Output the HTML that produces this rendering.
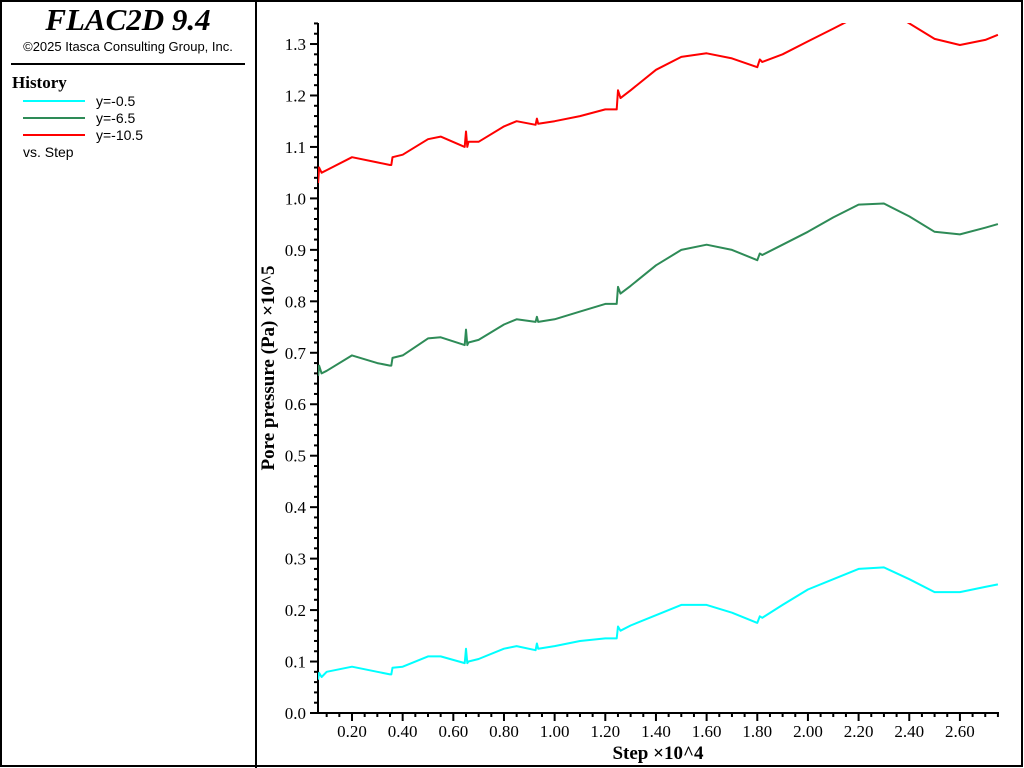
<!DOCTYPE html>
<html><head><meta charset="utf-8"><style>
html,body{margin:0;padding:0;background:#fff;width:1024px;height:768px;overflow:hidden}
svg{display:block}
</style></head><body>
<svg id="c" width="1024" height="768" xmlns="http://www.w3.org/2000/svg">
<rect x="1" y="1" width="1021" height="765" fill="#fff" stroke="#000" stroke-width="2"/>
<line x1="256" y1="0" x2="256" y2="768" stroke="#000" stroke-width="2"/>
<g>
<text x="128" y="30" text-anchor="middle" font-family="Liberation Serif" font-style="italic" font-weight="bold" font-size="31">FLAC2D 9.4</text>
<text x="128" y="51" text-anchor="middle" font-family="Liberation Sans" font-size="13">©2025 Itasca Consulting Group, Inc.</text>
<line x1="11" y1="64" x2="245" y2="64" stroke="#000" stroke-width="2"/>
<text x="12" y="88" font-family="Liberation Serif" font-weight="bold" font-size="17">History</text>
<g><line x1="23" y1="101" x2="85" y2="101" stroke="#00ffff" stroke-width="2"/><text x="96" y="106" font-family="Liberation Sans" font-size="14">y=-0.5</text></g>
<g><line x1="23" y1="118" x2="85" y2="118" stroke="#2e8b57" stroke-width="2"/><text x="96" y="123" font-family="Liberation Sans" font-size="14">y=-6.5</text></g>
<g><line x1="23" y1="135" x2="85" y2="135" stroke="#ff0000" stroke-width="2"/><text x="96" y="140" font-family="Liberation Sans" font-size="14">y=-10.5</text></g>
<text x="23" y="157" font-family="Liberation Sans" font-size="14">vs. Step</text>
</g>
<defs><clipPath id="clip"><rect x="318" y="23" width="682" height="691"/></clipPath></defs>
<g id="axes"></g>
<g id="series" clip-path="url(#clip)"></g>
<text x="658" y="759" text-anchor="middle" font-family="Liberation Serif" font-weight="bold" font-size="19">Step ×10^4</text>
<text transform="translate(274,368) rotate(-90)" text-anchor="middle" font-family="Liberation Serif" font-weight="bold" font-size="19">Pore pressure (Pa) ×10^5</text>
</svg>
<script>
const xs =   [0.066,0.07,0.08,0.1,0.2,0.3,0.35,0.355,0.36,0.4,0.5,0.55,0.645,0.65,0.655,0.66,0.7,0.8,0.85,0.925,0.93,0.935,1.0,1.1,1.2,1.245,1.25,1.26,1.3,1.4,1.5,1.6,1.7,1.8,1.81,1.82,1.9,2.0,2.1,2.2,2.3,2.4,2.5,2.6,2.7,2.75];
const redVals = [1.03,1.06,1.05,1.055,1.08,1.07,1.065,1.065,1.08,1.085,1.115,1.12,1.10,1.13,1.10,1.11,1.11,1.14,1.15,1.143,1.155,1.145,1.15,1.16,1.173,1.173,1.21,1.195,1.21,1.25,1.275,1.282,1.272,1.255,1.27,1.265,1.28,1.305,1.33,1.355,1.37,1.34,1.31,1.298,1.308,1.318];
const greenVals=[0.655,0.675,0.66,0.665,0.695,0.68,0.675,0.675,0.69,0.695,0.728,0.73,0.715,0.745,0.715,0.72,0.725,0.755,0.765,0.76,0.77,0.76,0.765,0.78,0.795,0.795,0.828,0.815,0.83,0.87,0.9,0.91,0.9,0.88,0.893,0.89,0.91,0.935,0.963,0.988,0.99,0.965,0.935,0.93,0.943,0.95];
const cyanVals=[0.065,0.078,0.07,0.08,0.09,0.08,0.075,0.075,0.088,0.09,0.11,0.11,0.097,0.125,0.097,0.1,0.105,0.125,0.13,0.122,0.135,0.125,0.13,0.14,0.145,0.145,0.168,0.16,0.17,0.19,0.21,0.21,0.195,0.175,0.188,0.185,0.21,0.24,0.26,0.28,0.283,0.26,0.235,0.235,0.245,0.25];
const xTicks=[0.2,0.4,0.6,0.8,1.0,1.2,1.4,1.6,1.8,2.0,2.2,2.4,2.6];
const yTicks=[0,0.1,0.2,0.3,0.4,0.5,0.6,0.7,0.8,0.9,1.0,1.1,1.2,1.3];
const X=v=>352+(v-0.2)*253.3, Y=v=>713-v*514.6;
const NS='http://www.w3.org/2000/svg';
const ax=document.getElementById('axes'), se=document.getElementById('series');
function mk(tag,at,p){const e=document.createElementNS(NS,tag);for(const k in at)e.setAttribute(k,at[k]);p.appendChild(e);return e;}
let l=mk('line',{x1:318,y1:23,x2:318,y2:714,stroke:'#000','stroke-width':2},ax);


l=mk('line',{x1:317,y1:713,x2:999,y2:713,stroke:'#000','stroke-width':2},ax);


for(let v=0;v<=1.345;v+=0.02){const y=Y(v);const maj=Math.abs(v*10-Math.round(v*10))<1e-6;mk('line',{x1:318-(maj?8:4),y1:y,x2:318,y2:y,stroke:'#000','stroke-width':2},ax);}
for(let v=0.1;v<=2.75;v+=0.05){const x=X(v);const maj=Math.abs(v*5-Math.round(v*5))<1e-6;mk('line',{x1:x,y1:713,x2:x,y2:713+(maj?8:4),stroke:'#000','stroke-width':2},ax);}
yTicks.forEach(v=>{const t=mk('text',{x:306,y:Y(v)+6,'text-anchor':'end','font-family':'Liberation Serif','font-size':17},ax);t.textContent=v.toFixed(1);

});
xTicks.forEach(v=>{const t=mk('text',{x:X(v),y:737,'text-anchor':'middle','font-family':'Liberation Serif','font-size':17},ax);t.textContent=v.toFixed(2);

});
[[cyanVals,'#00ffff','series-y-0.5'],[greenVals,'#2e8b57','series-y-6.5'],[redVals,'#ff0000','series-y-10.5']].forEach(([vals,c,n])=>{
const d=vals.map((v,i)=>(i?'L':'M')+X(xs[i]).toFixed(1)+','+Y(v).toFixed(1)).join('');
const p=mk('path',{d:d,fill:'none',stroke:c,'stroke-width':2,'stroke-linejoin':'round'},se);

});
</script>
</body></html>
